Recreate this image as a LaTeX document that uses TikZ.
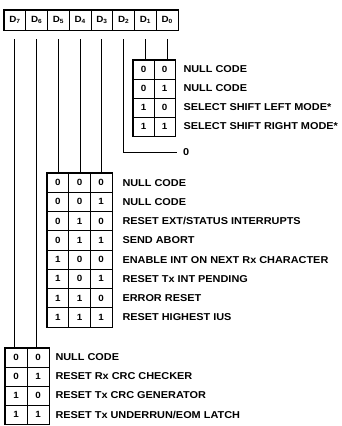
\documentclass[tikz,border=0pt]{standalone}
\usepackage{fontspec}
\setmainfont{Liberation Sans}[FakeStretch=1.09]
\usetikzlibrary{positioning}

\tikzset{
	bitcell/.style={draw, line width=0.6pt, minimum height=19pt, inner sep=0pt, font=\bfseries\fontsize{9}{10}\selectfont},
	regcell/.style={bitcell, minimum width=21.75pt, minimum height=20pt},
	codetext/.style={inner sep=0pt, font=\bfseries\fontsize{10}{12}\selectfont},
	wire/.style={line width=0.9pt},
	frame/.style={line width=1pt},
}

\begin{document}
\begin{tikzpicture}[x=1pt,y=-1pt]
	\useasboundingbox (0,0) rectangle (341,426);
	% write register
	\foreach \b [count=\i from 0] in {7,...,0}
		\node[regcell] (d\b) at (14.875+21.75*\i,20) {D\textsubscript{\b}};
	\draw[frame] (d7.north west) rectangle (d0.south east);

	% D1 D0
	\foreach \p/\q/\txt [count=\r] in {0/0/NULL CODE, 0/1/NULL CODE, 1/0/SELECT SHIFT LEFT MODE*, 1/1/SELECT SHIFT RIGHT MODE*} {
		\node[bitcell, minimum width=21pt] (a-\r-1) at (143.5,50.5+19*\r) {\p};
		\node[bitcell, minimum width=21pt] (a-\r-2) at (164.5,50.5+19*\r) {\q};
		\node[codetext, right=8pt of a-\r-2] (al-\r) {\txt};
	}
	\draw[frame] (a-1-1.north west) rectangle (a-4-2.south east);

	% D5 D4 D3
	\foreach \p/\q/\s/\txt [count=\r] in {0/0/0/NULL CODE, 0/0/1/NULL CODE, 0/1/0/{RESET EXT/STATUS INTERRUPTS}, 0/1/1/SEND ABORT, 1/0/0/ENABLE INT ON NEXT Rx CHARACTER, 1/0/1/RESET Tx INT PENDING, 1/1/0/ERROR RESET, 1/1/1/RESET HIGHEST IUS} {
		\node[bitcell, minimum width=21.67pt, minimum height=19.25pt] (b-\r-1) at (57.83,163.375+19.25*\r) {\p};
		\node[bitcell, minimum width=21.67pt, minimum height=19.25pt] (b-\r-2) at (79.5,163.375+19.25*\r) {\q};
		\node[bitcell, minimum width=21.67pt, minimum height=19.25pt] (b-\r-3) at (101.17,163.375+19.25*\r) {\s};
		\node[codetext, right=10pt of b-\r-3] (bl-\r) {\txt};
	}
	\draw[frame] (b-1-1.north west) rectangle (b-8-3.south east);

	% D7 D6
	\foreach \p/\q/\txt [count=\r] in {0/0/NULL CODE, 0/1/RESET Rx CRC CHECKER, 1/0/RESET Tx CRC GENERATOR, 1/1/{RESET Tx UNDERRUN/EOM LATCH}} {
		\node[bitcell, minimum width=22pt] (c-\r-1) at (16,338.5+19*\r) {\p};
		\node[bitcell, minimum width=22pt] (c-\r-2) at (38,338.5+19*\r) {\q};
		\node[codetext, right=6pt of c-\r-2] (cl-\r) {\txt};
	}
	\draw[frame] (c-1-1.north west) rectangle (c-4-2.south east);

	% D2
	\node[codetext, inner xsep=6pt, anchor=west] (zero) at (177,152) {0};

	% wires
	\draw[wire] ([yshift=-9pt]d7.south) -- (d7.south |- c-1-1.north);
	\draw[wire] ([yshift=-9pt]d6.south) -- (d6.south |- c-1-2.north);
	\draw[wire] ([yshift=-9pt]d5.south) -- (d5.south |- b-1-1.north);
	\draw[wire] ([yshift=-9pt]d4.south) -- (d4.south |- b-1-2.north);
	\draw[wire] ([yshift=-9pt]d3.south) -- (d3.south |- b-1-3.north);
	\draw[wire] ([yshift=-9pt]d2.south) |- (zero.west);
	\draw[wire] ([yshift=-9pt]d1.south) -- (d1.south |- a-1-1.north);
	\draw[wire] ([yshift=-9pt]d0.south) -- (d0.south |- a-1-2.north);
\end{tikzpicture}
\end{document}
